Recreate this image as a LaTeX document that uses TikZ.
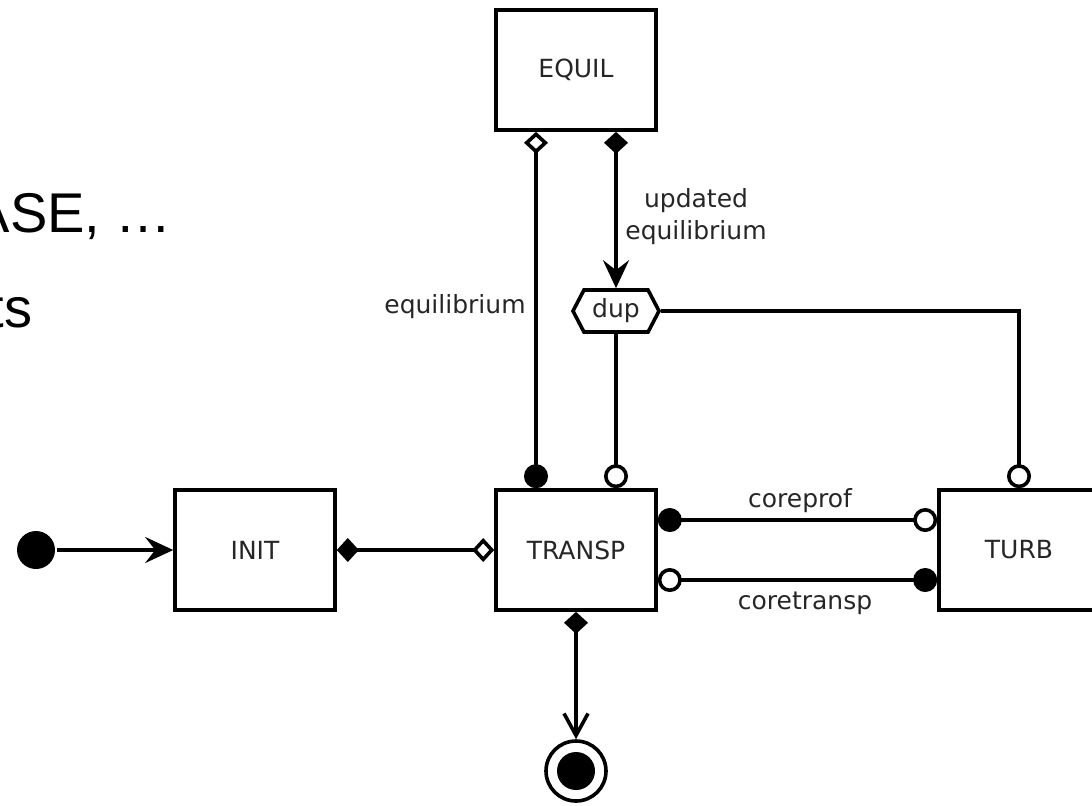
\documentclass[tikz,border=0pt]{standalone}
\usepackage{fontspec}
\setmainfont{DejaVu Sans}
\newfontfamily\slidefont{Liberation Sans}
\usetikzlibrary{arrows.meta, shapes.symbols}
\tikzset{
    every node/.style={font=\fontsize{12.5}{16}\selectfont, text=black!85}
}
\tikzset{
    state/.style={rectangle, draw, fill=white, minimum width=80pt,
    	minimum height=60pt},
    dupbox/.style={signal, signal to=west and east, signal pointer angle=125,
    	draw, fill=white, minimum width=43pt, minimum height=21pt, inner sep=1pt},
    startdot/.style={circle, fill=black, minimum size=19pt, inner sep=0pt},
    endring/.style={circle, draw, fill=white, minimum size=30pt, inner sep=0pt},
    slidetext/.style={font=\slidefont\fontsize{28}{34}\selectfont, text=black,
    	inner sep=0pt}
}
\tikzset{
    fdia/.tip={Diamond[length=11pt, width=12pt]},
    odia/.tip={Diamond[length=11pt, width=12pt, fill=white]},
    fcirc/.tip={Circle[length=12pt]},
    ocirc/.tip={Circle[length=12pt, fill=white]},
    stl/.tip={Stealth[length=14pt, width=13pt, inset=5pt]},
    vee/.tip={Straight Barb[length=11pt, width=12pt]}
}

\begin{document}
\begin{tikzpicture}[x=0.5pt, y=-0.5pt, line width=1.8pt]
	\useasboundingbox (0,0) rectangle (1092,805);
	% what is left of the slide text
	\node (txt1) [slidetext, anchor=base west] at (-29,232) {ASE, …};
	\node (txt2) [slidetext, anchor=base east] at (34,327) {ts};

	\node (start) [startdot] at (36,550) {};
	\node (init) [state] at (255,550) {INIT};
	\node (transp) [state] at (576,550) {TRANSP};
	\node (turb) [state] at (1019,550) {TURB};
	\node (equil) [state] at (576,70) {EQUIL};
	\node (dup) [dupbox] at (616,311) {dup};
	\node (final) [endring] at (576,771) {};
	\node (finaldot) [startdot] at (576,771) {};

	\node (lblequil) at (455,307) {equilibrium};
	\node (lblupd) [align=center] at (696,217) {updated\\equilibrium};
	\node (lblprof) at (800,501) {coreprof};
	\node (lbltransp) at (805,603) {coretransp};

	\draw (start) edge[-stl] (init);
	\draw (init) edge[fdia-odia] (transp);
	\draw ([xshift=-20pt]equil.south) edge[odia-fcirc] ([xshift=-20pt]transp.north);
	\draw ([xshift=20pt]equil.south) edge[fdia-stl] (dup.north);
	\draw (dup.south) edge[-ocirc] ([xshift=20pt]transp.north);
	\draw[-ocirc] (dup.east) -| (turb.north);
	\draw ([yshift=15pt]transp.east) edge[fcirc-ocirc] ([yshift=15pt]turb.west);
	\draw ([yshift=-15pt]transp.east) edge[ocirc-fcirc] ([yshift=-15pt]turb.west);
	\draw (transp) edge[fdia-vee] (final);
\end{tikzpicture}
\end{document}
